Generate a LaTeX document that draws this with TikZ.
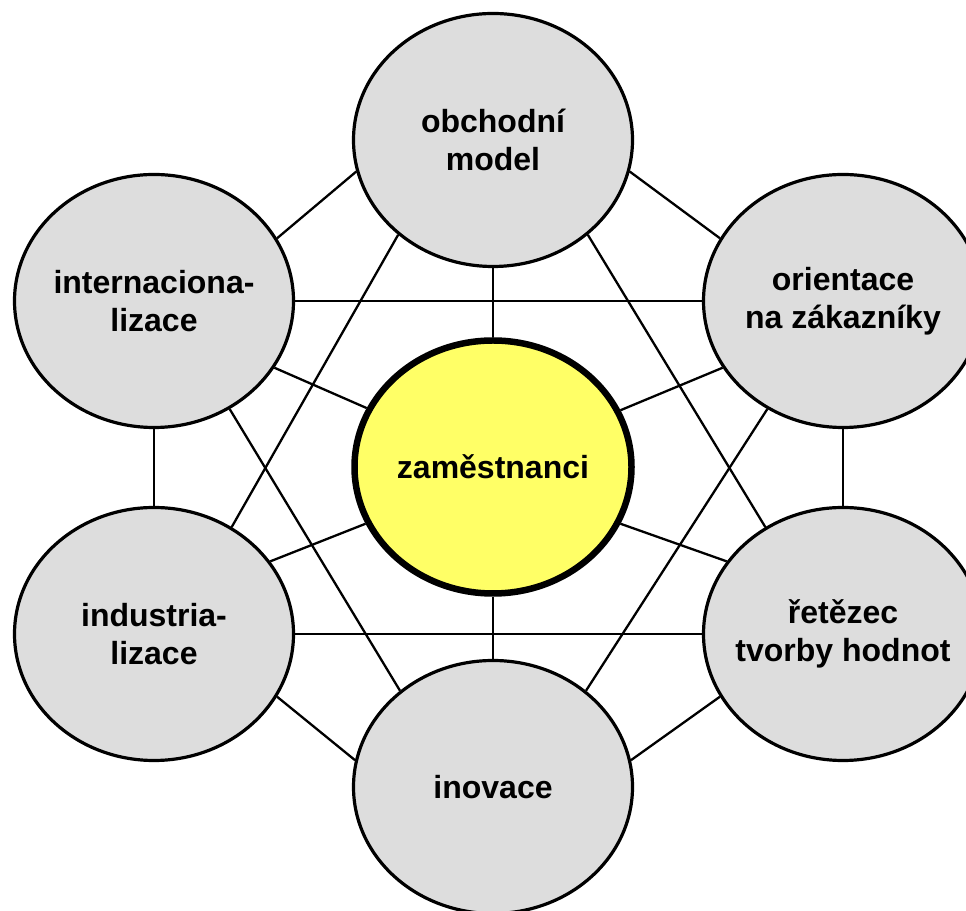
\documentclass[tikz,border=0pt]{standalone}
\usepackage{fontspec}
\setmainfont{Liberation Sans}
\usepackage{tikz}
\usetikzlibrary{shapes}
\definecolor{bubblegray}{RGB}{221,221,221}
\definecolor{bubbleyellow}{RGB}{255,255,102}
\newcommand{\bubble}[3]{
  \node[VertexStyle] (#1) at #2 {#3};
}
\tikzset{
  VertexStyle/.style = {ellipse, draw, line width=3.2pt, fill=bubblegray,
                        minimum width=279pt, minimum height=253pt,
                        inner sep=-20pt, align=center,
                        font=\fontsize{32}{38}\selectfont\bfseries},
  HubStyle/.style    = {VertexStyle, fill=bubbleyellow, line width=6.5pt,
                        minimum width=277pt, minimum height=253pt},
  EdgeStyle/.style   = {line width=2.3pt}
}

\begin{document}
\begin{tikzpicture}[x=1pt,y=1pt]
	\useasboundingbox (0,0) rectangle (966,910);
	\bubble{OM}{(493,770)}{obchodní\\model}
	\bubble{IN}{(154,609)}{internaciona-\\lizace}
	\bubble{OZ}{(843,609)}{orientace\\na zákazníky}
	\bubble{IZ}{(154,276)}{industria-\\lizace}
	\bubble{RH}{(843,276)}{řetězec\\tvorby hodnot}
	\bubble{IV}{(493,123)}{inovace}
	\node[HubStyle] (ZA) at (493,443) {zaměstnanci};
	\draw[EdgeStyle] (OM.south) -- (ZA.north);
	\draw[EdgeStyle] (ZA.south) -- (IV.north);
	\draw[EdgeStyle] (ZA.155) -- (IN.-29);
	\draw[EdgeStyle] (ZA.204) -- (IZ.32);
	\draw[EdgeStyle] (ZA.24) -- (OZ.209);
	\draw[EdgeStyle] (ZA.-24) -- (RH.148);
	\draw[EdgeStyle] (OM.193) -- (IN.27);
	\draw[EdgeStyle] (OM.-13) -- (OZ.153);
	\draw[EdgeStyle] (IN.south) -- (IZ.north);
	\draw[EdgeStyle] (OZ.south) -- (RH.north);
	\draw[EdgeStyle] (IZ.-27) -- (IV.169);
	\draw[EdgeStyle] (RH.207) -- (IV.11);
	\draw[EdgeStyle] (IN.east) -- (OZ.west);
	\draw[EdgeStyle] (IZ.east) -- (RH.west);
	\draw[EdgeStyle] (OM.225) -- (IZ.54);
	\draw[EdgeStyle] (OM.-45) -- (RH.126);
	\draw[EdgeStyle] (IN.-55) -- (IV.134);
	\draw[EdgeStyle] (OZ.235) -- (IV.46);
\end{tikzpicture}
\end{document}
